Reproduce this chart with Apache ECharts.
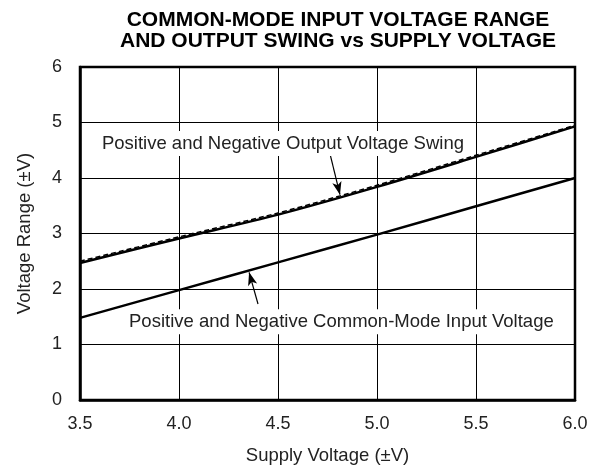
<!DOCTYPE html>
<html>
<head>
<meta charset="utf-8">
<script src="https://cdn.jsdelivr.net/npm/echarts@6/dist/echarts.min.js"></script>
<style>html,body{margin:0;padding:0;background:#fff;}#c{width:597px;height:470px;}</style>
</head>
<body>
<div id="c"></div>
<script>
const supplyVoltage = [3.5, 4.0, 4.5, 5.0, 5.5, 6.0];
const outputSwing = [2.47, 2.91, 3.34, 3.84, 4.38, 4.93];
const outputSwingDashed = [2.50, 2.94, 3.37, 3.87, 4.41, 4.95];
const commonModeInput = [1.48, 1.98, 2.48, 2.98, 3.49, 4.0];
const xTicks = [3.5, 4.0, 4.5, 5.0, 5.5, 6.0];
const yTicks = [0, 1, 2, 3, 4, 5, 6];
const labelOutput = 'Positive and Negative Output Voltage Swing';
const labelCommon = 'Positive and Negative Common-Mode Input Voltage';
const labelOutputPos = [4.525, 4.62];
const labelCommonPos = [4.82, 1.41];
const arrowOutput = [[4.763, 4.43], [4.813, 3.70]];
const arrowCommon = [[4.399, 1.73], [4.354, 2.30]];

const FONT = '"Liberation Sans", Arial, Helvetica, sans-serif';
const chart = echarts.init(document.getElementById('c'), null, {renderer: 'canvas'});
const pair = (a, b) => a.map((v, i) => [v, b[i]]);

chart.setOption({
  animation: false,
  backgroundColor: '#fff',
  title: {
    text: 'COMMON-MODE INPUT VOLTAGE RANGE\nAND OUTPUT SWING vs SUPPLY VOLTAGE',
    left: 333, top: 5, textAlign: 'center',
    textStyle: {fontFamily: FONT, fontWeight: 'bold', fontSize: 21, lineHeight: 20.5, color: '#000'}
  },
  grid: {left: 80, right: 22, top: 67, bottom: 67, show: true, borderColor: '#000', borderWidth: 2.5, backgroundColor: 'transparent'},
  xAxis: {
    type: 'value', min: xTicks[0], max: xTicks[xTicks.length - 1], interval: 0.5,
    name: 'Supply Voltage (±V)', nameLocation: 'middle', nameGap: 46,
    nameTextStyle: {fontFamily: FONT, fontSize: 18.5, color: '#222'},
    axisLine: {show: true, lineStyle: {color: '#000', width: 2.5}},
    axisTick: {show: false},
    axisLabel: {fontFamily: FONT, fontSize: 18, color: '#222', margin: 15, formatter: v => v.toFixed(1)},
    splitLine: {show: true, lineStyle: {color: '#000', width: 1}}
  },
  yAxis: {
    type: 'value', min: yTicks[0], max: yTicks[yTicks.length - 1], interval: 1,
    name: 'Voltage Range (±V)', nameLocation: 'middle', nameGap: 46,
    nameTextStyle: {fontFamily: FONT, fontSize: 18.5, color: '#222'},
    axisLine: {show: true, lineStyle: {color: '#000', width: 2.5}},
    axisTick: {show: false},
    axisLabel: {fontFamily: FONT, fontSize: 18, color: '#222', margin: 18},
    splitLine: {show: true, lineStyle: {color: '#000', width: 1}}
  },
  series: [
    {
      type: 'line', data: pair(supplyVoltage, outputSwing), smooth: 0.3, symbol: 'none',
      lineStyle: {color: '#000', width: 2.5}, z: 3
    },
    {
      type: 'line', data: pair(supplyVoltage, outputSwingDashed), smooth: 0.3, symbol: 'none',
      lineStyle: {color: '#000', width: 1.5, type: [5, 3]}, z: 3
    },
    {
      type: 'line', data: pair(supplyVoltage, commonModeInput), smooth: 0.3, symbol: 'none',
      lineStyle: {color: '#000', width: 2.5}, z: 3,
      markLine: {
        silent: true, symbol: ['none', 'arrow'], symbolSize: [7, 13],
        lineStyle: {color: '#000', width: 1.2, type: 'solid'},
        label: {show: false},
        data: [
          [{coord: arrowOutput[0]}, {coord: arrowOutput[1]}],
          [{coord: arrowCommon[0]}, {coord: arrowCommon[1]}]
        ]
      }
    }
  ]
});

function addLabels() {
  const p1 = chart.convertToPixel({gridIndex: 0}, labelOutputPos);
  const p2 = chart.convertToPixel({gridIndex: 0}, labelCommonPos);
  const mk = (p, t) => ({
    type: 'text', x: p[0], y: p[1], z: 10,
    style: {
      text: t, fontFamily: FONT, fontSize: 18.5, fill: '#222',
      align: 'center', verticalAlign: 'middle',
      backgroundColor: '#fff', padding: [3, 4]
    }
  });
  chart.setOption({graphic: [mk(p1, labelOutput), mk(p2, labelCommon)]});
}
addLabels();
</script>
</body>
</html>
